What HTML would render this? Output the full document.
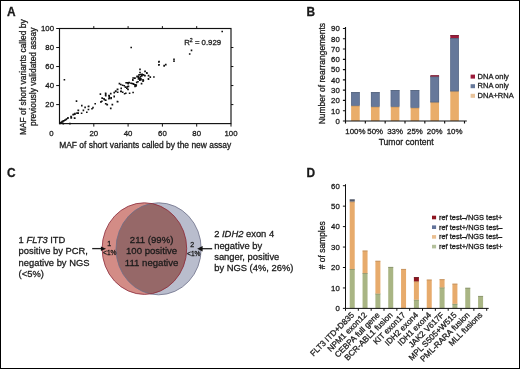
<!DOCTYPE html><html><head><meta charset="utf-8"><style>html,body{margin:0;padding:0;background:#fff;}svg{display:block;filter:blur(0.3px);} text{font-family:"Liberation Sans", sans-serif;fill:#1a1a1a;stroke:#1a1a1a;stroke-width:0.28px;}</style></head><body>
<svg width="520" height="369" viewBox="0 0 520 369">
<rect x="0" y="0" width="520" height="369" fill="#fff"/>
<text x="6.9" y="16.2" font-size="11.9" font-weight="bold" fill="#000">A</text>
<text x="306.6" y="16.2" font-size="11.9" font-weight="bold" fill="#000">B</text>
<text x="6.9" y="176.6" font-size="11.9" font-weight="bold" fill="#000">C</text>
<text x="306.6" y="176.5" font-size="11.9" font-weight="bold" fill="#000">D</text>
<rect x="59.5" y="28.5" width="171.5" height="95.1" fill="none" stroke="#111" stroke-width="1.15"/>
<path d="M93.80,123.6v3.0 M93.80,28.5v-2.4 M59.5,104.58h-3.3 M231.0,104.58h2.4 M128.10,123.6v3.0 M128.10,28.5v-2.4 M59.5,85.56h-3.3 M231.0,85.56h2.4 M162.40,123.6v3.0 M162.40,28.5v-2.4 M59.5,66.54h-3.3 M231.0,66.54h2.4 M196.70,123.6v3.0 M196.70,28.5v-2.4 M59.5,47.52h-3.3 M231.0,47.52h2.4 M231.00,123.6v3.0 M59.5,28.50h-3.3" stroke="#111" stroke-width="1" fill="none"/>
<text x="93.80" y="135.6" font-size="7.8" text-anchor="middle" fill="#333">20</text>
<text x="54.0" y="107.38" font-size="7.8" text-anchor="end" fill="#333">20</text>
<text x="128.10" y="135.6" font-size="7.8" text-anchor="middle" fill="#333">40</text>
<text x="54.0" y="88.36" font-size="7.8" text-anchor="end" fill="#333">40</text>
<text x="162.40" y="135.6" font-size="7.8" text-anchor="middle" fill="#333">60</text>
<text x="54.0" y="69.34" font-size="7.8" text-anchor="end" fill="#333">60</text>
<text x="196.70" y="135.6" font-size="7.8" text-anchor="middle" fill="#333">80</text>
<text x="54.0" y="50.32" font-size="7.8" text-anchor="end" fill="#333">80</text>
<text x="231.00" y="135.6" font-size="7.8" text-anchor="middle" fill="#333">100</text>
<text x="54.0" y="31.30" font-size="7.8" text-anchor="end" fill="#333">100</text>
<text x="51.3" y="135.6" font-size="7.8" text-anchor="middle" fill="#333">0</text>
<text x="145.2" y="148.2" font-size="8.45" text-anchor="middle">MAF of short variants called by the new assay</text>
<text transform="translate(26.0,77.2) rotate(-90)" font-size="8.45" text-anchor="middle">MAF of short variants called by</text>
<text transform="translate(36.2,76.8) rotate(-90)" font-size="8.45" text-anchor="middle">previously validated assay</text>
<text x="184.2" y="45.0" font-size="7.8" fill="#333">R<tspan font-size="5.2" dy="-3">2</tspan><tspan dy="3"> = 0.929</tspan></text>
<path d="M76.5,101.1h0 M81.8,105.6h0 M85.1,107.4h0 M88.4,106.5h0 M88.4,109.5h0 M83.4,110.4h0 M78.4,110.4h0 M86.8,112.3h0 M81.6,113.2h0 M77.0,113.2h0 M78.0,113.2h0 M74.9,114.1h0 M73.5,114.8h0 M71.0,116.6h0 M71.4,117.6h0 M74.8,118.2h0 M67.9,118.2h0 M66.5,119.0h0 M65.0,120.1h0 M63.6,120.8h0 M62.2,121.5h0 M60.8,122.6h0 M60.1,122.9h0 M117.4,89.3h0 M115.6,91.4h0 M114.2,92.6h0 M110.7,93.5h0 M105.6,93.2h0 M105.6,95.1h0 M100.4,94.2h0 M108.9,95.6h0 M109.3,97.0h0 M111.0,98.4h0 M108.9,98.8h0 M114.2,96.7h0 M102.1,98.0h0 M104.0,98.8h0 M105.4,100.1h0 M101.9,101.3h0 M100.8,102.0h0 M117.4,101.6h0 M95.2,103.7h0 M105.7,103.7h0 M107.1,104.8h0 M112.4,104.6h0 M110.7,108.3h0 M88.7,106.4h0 M93.0,107.6h0 M92.0,108.7h0 M88.5,109.5h0 M140.0,69.4h0 M140.0,72.5h0 M139.8,74.8h0 M141.6,74.5h0 M143.4,74.8h0 M137.0,76.6h0 M138.4,77.3h0 M139.8,78.0h0 M140.9,78.7h0 M133.1,78.0h0 M134.9,78.1h0 M132.8,79.7h0 M138.4,79.0h0 M139.8,80.1h0 M143.0,79.7h0 M143.0,81.2h0 M141.6,83.6h0 M136.7,82.3h0 M126.1,82.8h0 M127.5,82.9h0 M129.3,82.8h0 M131.0,83.3h0 M132.4,83.6h0 M133.8,84.2h0 M135.3,84.7h0 M136.3,85.0h0 M119.4,83.6h0 M120.8,84.5h0 M122.6,85.2h0 M124.3,85.7h0 M128.2,83.6h0 M128.2,86.4h0 M125.4,87.1h0 M126.8,88.2h0 M127.9,89.3h0 M121.2,88.5h0 M117.6,89.3h0 M115.9,91.0h0 M121.2,91.4h0 M158.8,62.0h0 M158.8,65.0h0 M164.1,65.9h0 M165.8,64.8h0 M145.0,71.2h0 M146.8,72.9h0 M142.2,74.3h0 M143.6,75.0h0 M145.0,75.7h0 M148.6,75.7h0 M150.3,77.0h0 M153.9,77.0h0 M148.4,78.9h0 M145.1,71.4h0 M147.0,73.3h0 M148.5,75.6h0 M150.3,77.2h0 M148.5,79.1h0 M138.8,75.0h0 M141.0,74.5h0 M143.2,75.0h0 M144.8,75.6h0 M137.2,76.4h0 M138.3,76.9h0 M141.8,75.9h0 M140.5,76.7h0 M138.8,78.0h0 M139.9,78.8h0 M141.0,79.6h0 M143.4,80.5h0 M133.4,78.0h0 M135.0,78.3h0 M132.9,80.2h0 M136.7,82.4h0 M138.0,81.8h0 M141.5,83.7h0 M129.1,82.6h0 M131.2,83.2h0 M133.4,83.7h0 M135.0,84.8h0 M136.1,85.9h0 M128.5,86.4h0 M131.2,47.5h0 M64.4,79.8h0 M222.2,31.5h0 M191.5,50.4h0 M189.7,54.0h0 M174.0,59.2h0 M174.0,61.1h0 M159.1,61.6h0 M159.1,64.8h0 M164.2,65.5h0 M165.8,64.6h0 M133.1,92.5h0 M129.6,93.3h0 M125.8,93.3h0 M124.6,93.7h0 M122.7,92.2h0 M120.8,91.4h0 M121.2,88.3h0 M117.7,89.5h0 M115.8,91.4h0 M114.2,92.5h0 M117.7,92.2h0 M110.8,93.7h0 M109.2,95.6h0 M109.2,98.3h0 M111.2,97.9h0 M114.2,96.4h0 M105.8,93.7h0 M105.8,95.6h0 M100.4,94.1h0 M102.3,98.3h0 M104.2,99.5h0 M105.8,100.2h0 M101.2,101.8h0 M117.7,101.8h0 M105.8,103.7h0 M107.3,104.6h0 M112.3,104.5h0 M110.8,108.5h0 M127.3,86.8h0 M128.1,89.5h0 M135.0,86.4h0 M78.2,110.2h0 M77.0,113.1h0 M78.2,113.1h0 M73.1,114.6h0 M74.0,114.3h0 M75.0,113.6h0 M71.1,116.5h0 M71.1,118.0h0 M74.5,118.0h0 M68.0,117.8h0 M66.2,119.5h0 M65.0,120.2h0 M63.8,120.9h0 M62.8,121.4h0 M61.9,122.1h0 M60.9,122.9h0 M59.9,123.4h0 M63.3,123.6h0 M69.9,123.6h0" stroke="#111" stroke-width="1.6" stroke-linecap="square" fill="none"/>
<rect x="351.12" y="105.58" width="8.6" height="15.42" fill="#e9ad6a"/>
<path d="M351.12,105.93h8.6" stroke="#b98a55" stroke-width="0.7"/>
<rect x="351.12" y="92.22" width="8.6" height="13.36" fill="#66789a"/>
<rect x="351.37" y="92.47" width="8.10" height="12.86" fill="none" stroke="#55647e" stroke-width="0.5"/>
<path d="M351.12,92.57h8.6" stroke="#55647e" stroke-width="0.7"/>
<rect x="370.95" y="106.61" width="8.6" height="14.39" fill="#e9ad6a"/>
<path d="M370.95,106.96h8.6" stroke="#b98a55" stroke-width="0.7"/>
<rect x="370.95" y="92.22" width="8.6" height="14.39" fill="#66789a"/>
<rect x="371.20" y="92.47" width="8.10" height="13.89" fill="none" stroke="#55647e" stroke-width="0.5"/>
<path d="M370.95,92.57h8.6" stroke="#55647e" stroke-width="0.7"/>
<rect x="390.78" y="106.61" width="8.6" height="14.39" fill="#e9ad6a"/>
<path d="M390.78,106.96h8.6" stroke="#b98a55" stroke-width="0.7"/>
<rect x="390.78" y="90.16" width="8.6" height="16.45" fill="#66789a"/>
<rect x="391.03" y="90.41" width="8.10" height="15.95" fill="none" stroke="#55647e" stroke-width="0.5"/>
<path d="M390.78,90.51h8.6" stroke="#55647e" stroke-width="0.7"/>
<rect x="410.62" y="107.64" width="8.6" height="13.36" fill="#e9ad6a"/>
<path d="M410.62,107.99h8.6" stroke="#b98a55" stroke-width="0.7"/>
<rect x="410.62" y="90.16" width="8.6" height="17.48" fill="#66789a"/>
<rect x="410.87" y="90.41" width="8.10" height="16.98" fill="none" stroke="#55647e" stroke-width="0.5"/>
<path d="M410.62,90.51h8.6" stroke="#55647e" stroke-width="0.7"/>
<rect x="430.45" y="102.19" width="8.6" height="18.81" fill="#e9ad6a"/>
<path d="M430.45,102.54h8.6" stroke="#b98a55" stroke-width="0.7"/>
<rect x="430.45" y="76.49" width="8.6" height="25.70" fill="#66789a"/>
<rect x="430.70" y="76.74" width="8.10" height="25.20" fill="none" stroke="#55647e" stroke-width="0.5"/>
<path d="M430.45,76.84h8.6" stroke="#55647e" stroke-width="0.7"/>
<rect x="430.45" y="75.36" width="8.6" height="1.13" fill="#9b1b3a"/>
<path d="M430.45,75.71h8.6" stroke="#6a1025" stroke-width="0.7"/>
<rect x="450.28" y="91.19" width="8.6" height="29.81" fill="#e9ad6a"/>
<path d="M450.28,91.54h8.6" stroke="#b98a55" stroke-width="0.7"/>
<rect x="450.28" y="38.04" width="8.6" height="53.15" fill="#66789a"/>
<rect x="450.53" y="38.29" width="8.10" height="52.65" fill="none" stroke="#55647e" stroke-width="0.5"/>
<path d="M450.28,38.39h8.6" stroke="#55647e" stroke-width="0.7"/>
<rect x="450.28" y="35.16" width="8.6" height="2.88" fill="#9b1b3a"/>
<path d="M450.28,35.51h8.6" stroke="#6a1025" stroke-width="0.7"/>
<path d="M345.5,26.98V121.0H466.8 M345.5,121.00h-2.6 M345.5,110.72h-2.6 M345.5,100.44h-2.6 M345.5,90.16h-2.6 M345.5,79.88h-2.6 M345.5,69.60h-2.6 M345.5,59.32h-2.6 M345.5,49.04h-2.6 M345.5,38.76h-2.6 M345.5,28.48h-2.6 M345.50,121.0v2.4 M365.33,121.0v2.4 M385.17,121.0v2.4 M405.00,121.0v2.4 M424.83,121.0v2.4 M444.67,121.0v2.4 M464.50,121.0v2.4" stroke="#111" stroke-width="1.15" fill="none"/>
<text x="339.8" y="123.80" font-size="7.8" text-anchor="end" fill="#333">0</text>
<text x="339.8" y="113.52" font-size="7.8" text-anchor="end" fill="#333">10</text>
<text x="339.8" y="103.24" font-size="7.8" text-anchor="end" fill="#333">20</text>
<text x="339.8" y="92.96" font-size="7.8" text-anchor="end" fill="#333">30</text>
<text x="339.8" y="82.68" font-size="7.8" text-anchor="end" fill="#333">40</text>
<text x="339.8" y="72.40" font-size="7.8" text-anchor="end" fill="#333">50</text>
<text x="339.8" y="62.12" font-size="7.8" text-anchor="end" fill="#333">60</text>
<text x="339.8" y="51.84" font-size="7.8" text-anchor="end" fill="#333">70</text>
<text x="339.8" y="41.56" font-size="7.8" text-anchor="end" fill="#333">80</text>
<text x="339.8" y="31.28" font-size="7.8" text-anchor="end" fill="#333">90</text>
<text x="355.42" y="133.6" font-size="7.9" text-anchor="middle" fill="#333">100%</text>
<text x="375.25" y="133.6" font-size="7.9" text-anchor="middle" fill="#333">50%</text>
<text x="395.08" y="133.6" font-size="7.9" text-anchor="middle" fill="#333">33%</text>
<text x="414.92" y="133.6" font-size="7.9" text-anchor="middle" fill="#333">25%</text>
<text x="434.75" y="133.6" font-size="7.9" text-anchor="middle" fill="#333">20%</text>
<text x="454.58" y="133.6" font-size="7.9" text-anchor="middle" fill="#333">10%</text>
<text x="406.2" y="145.4" font-size="8.6" text-anchor="middle">Tumor content</text>
<text transform="translate(325.0,73.6) rotate(-90)" font-size="8.45" text-anchor="middle">Number of rearrangements</text>
<rect x="470.6" y="74.60" width="4.4" height="4.0" fill="#9b1b3a"/>
<text x="477.6" y="78.60" font-size="7.5">DNA only</text>
<rect x="470.6" y="84.20" width="4.4" height="4.0" fill="#66789a"/>
<text x="477.6" y="88.20" font-size="7.5">RNA only</text>
<rect x="470.6" y="93.80" width="4.4" height="4.0" fill="#e8c39b"/>
<text x="477.6" y="97.80" font-size="7.5">DNA+RNA</text>
<defs><clipPath id="cr"><ellipse cx="144.4" cy="248.6" rx="42.3" ry="45.8"/></clipPath></defs>
<ellipse cx="158.6" cy="248.8" rx="42.6" ry="46" fill="#b9bdcd"/>
<ellipse cx="144.4" cy="248.6" rx="42.3" ry="45.8" fill="#d38c86"/>
<ellipse cx="158.6" cy="248.8" rx="42.6" ry="46" fill="#966868" clip-path="url(#cr)"/>
<ellipse cx="158.6" cy="248.8" rx="42.6" ry="46" fill="none" stroke="#6c6f88" stroke-width="0.8"/>
<ellipse cx="144.4" cy="248.6" rx="42.3" ry="45.8" fill="none" stroke="#8a2a3a" stroke-width="0.8"/>
<text x="151.6" y="242.6" font-size="9.6" text-anchor="middle" fill="#2a1a1a">211 (99%)</text>
<text x="151.6" y="254.1" font-size="9.6" text-anchor="middle" fill="#2a1a1a">100 positive</text>
<text x="151.6" y="265.6" font-size="9.6" text-anchor="middle" fill="#2a1a1a">111 negative</text>
<text x="109.2" y="246.2" font-size="7" text-anchor="middle" fill="#333">1</text>
<text x="109.8" y="255.2" font-size="6.6" text-anchor="middle" fill="#333">&lt;1%</text>
<text x="192.3" y="246.8" font-size="7" text-anchor="middle" fill="#333">2</text>
<text x="193.8" y="255.6" font-size="6.6" text-anchor="middle" fill="#333">&lt;1%</text>
<path d="M92.2,248.6H102" stroke="#222" stroke-width="1.3"/>
<path d="M106.0,248.7L100.9,246.5L100.9,250.9Z" fill="#111"/>
<path d="M212.2,248.7H201.5" stroke="#222" stroke-width="1.3"/>
<path d="M197.2,248.7L202.6,246L202.6,251.4Z" fill="#111"/>
<text x="18.6" y="242.6" font-size="9.4">1 <tspan font-style="italic">FLT3</tspan> ITD</text>
<text x="18.6" y="254.1" font-size="9.4">positive by PCR,</text>
<text x="18.6" y="265.6" font-size="9.4">negative by NGS</text>
<text x="18.6" y="277.1" font-size="9.4">(&lt;5%)</text>
<text x="214.2" y="237.3" font-size="9.4">2 <tspan font-style="italic">IDH2</tspan> exon 4</text>
<text x="214.2" y="248.6" font-size="9.4">negative by</text>
<text x="214.2" y="259.9" font-size="9.4">sanger, positive</text>
<text x="214.2" y="271.2" font-size="9.4">by NGS (4%, 26%)</text>
<rect x="349.72" y="269.04" width="5.0" height="39.36" fill="#a9b584"/>
<path d="M349.72,269.39h5.0" stroke="#7f8a66" stroke-width="0.7"/>
<rect x="349.72" y="201.56" width="5.0" height="67.48" fill="#e7ab6c"/>
<path d="M349.72,201.91h5.0" stroke="#b98a58" stroke-width="0.7"/>
<rect x="349.72" y="199.51" width="5.0" height="2.04" fill="#5a6274"/>
<path d="M349.72,199.86h5.0" stroke="#454b58" stroke-width="0.7"/>
<rect x="362.55" y="273.13" width="5.0" height="35.26" fill="#a9b584"/>
<path d="M362.55,273.49h5.0" stroke="#7f8a66" stroke-width="0.7"/>
<rect x="362.55" y="250.64" width="5.0" height="22.50" fill="#e7ab6c"/>
<path d="M362.55,250.99h5.0" stroke="#b98a58" stroke-width="0.7"/>
<rect x="375.39" y="293.58" width="5.0" height="14.81" fill="#a9b584"/>
<path d="M375.39,293.94h5.0" stroke="#7f8a66" stroke-width="0.7"/>
<rect x="375.39" y="260.87" width="5.0" height="32.72" fill="#e7ab6c"/>
<path d="M375.39,261.22h5.0" stroke="#b98a58" stroke-width="0.7"/>
<rect x="388.23" y="267.00" width="5.0" height="41.40" fill="#a9b584"/>
<path d="M388.23,267.35h5.0" stroke="#7f8a66" stroke-width="0.7"/>
<rect x="401.06" y="269.04" width="5.0" height="39.36" fill="#e7ab6c"/>
<path d="M401.06,269.39h5.0" stroke="#b98a58" stroke-width="0.7"/>
<rect x="413.90" y="299.72" width="5.0" height="8.68" fill="#a9b584"/>
<path d="M413.90,300.07h5.0" stroke="#7f8a66" stroke-width="0.7"/>
<rect x="413.90" y="281.31" width="5.0" height="18.40" fill="#e7ab6c"/>
<path d="M413.90,281.67h5.0" stroke="#b98a58" stroke-width="0.7"/>
<rect x="413.90" y="277.22" width="5.0" height="4.09" fill="#8e1520"/>
<path d="M413.90,277.57h5.0" stroke="#600e15" stroke-width="0.7"/>
<rect x="426.74" y="279.68" width="5.0" height="28.72" fill="#e7ab6c"/>
<path d="M426.74,280.03h5.0" stroke="#b98a58" stroke-width="0.7"/>
<rect x="439.57" y="287.45" width="5.0" height="20.95" fill="#a9b584"/>
<path d="M439.57,287.80h5.0" stroke="#7f8a66" stroke-width="0.7"/>
<rect x="439.57" y="279.27" width="5.0" height="8.18" fill="#e7ab6c"/>
<path d="M439.57,279.62h5.0" stroke="#b98a58" stroke-width="0.7"/>
<rect x="452.41" y="303.81" width="5.0" height="4.59" fill="#a9b584"/>
<path d="M452.41,304.16h5.0" stroke="#7f8a66" stroke-width="0.7"/>
<rect x="452.41" y="283.77" width="5.0" height="20.04" fill="#e7ab6c"/>
<path d="M452.41,284.12h5.0" stroke="#b98a58" stroke-width="0.7"/>
<rect x="465.25" y="287.86" width="5.0" height="20.54" fill="#a9b584"/>
<path d="M465.25,288.21h5.0" stroke="#7f8a66" stroke-width="0.7"/>
<rect x="478.08" y="296.04" width="5.0" height="12.36" fill="#a9b584"/>
<path d="M478.08,296.39h5.0" stroke="#7f8a66" stroke-width="0.7"/>
<path d="M345.5,184.20V308.4H488.7 M345.5,308.40h-2.6 M345.5,287.95h-2.6 M345.5,267.50h-2.6 M345.5,247.05h-2.6 M345.5,226.60h-2.6 M345.5,206.15h-2.6 M345.5,185.70h-2.6 M345.50,308.4v2.4 M358.34,308.4v2.4 M371.17,308.4v2.4 M384.01,308.4v2.4 M396.85,308.4v2.4 M409.68,308.4v2.4 M422.52,308.4v2.4 M435.35,308.4v2.4 M448.19,308.4v2.4 M461.03,308.4v2.4 M473.86,308.4v2.4 M486.70,308.4v2.4" stroke="#111" stroke-width="1" fill="none"/>
<text x="339.8" y="311.20" font-size="7.8" text-anchor="end" fill="#333">0</text>
<text x="339.8" y="290.75" font-size="7.8" text-anchor="end" fill="#333">10</text>
<text x="339.8" y="270.30" font-size="7.8" text-anchor="end" fill="#333">20</text>
<text x="339.8" y="249.85" font-size="7.8" text-anchor="end" fill="#333">30</text>
<text x="339.8" y="229.40" font-size="7.8" text-anchor="end" fill="#333">40</text>
<text x="339.8" y="208.95" font-size="7.8" text-anchor="end" fill="#333">50</text>
<text x="339.8" y="188.50" font-size="7.8" text-anchor="end" fill="#333">60</text>
<text transform="translate(325.3,245.3) rotate(-90)" font-size="8.45" text-anchor="middle"># of samples</text>
<text transform="translate(354.62,315.60) rotate(-45)" font-size="8.2" text-anchor="end">FLT3 ITD+D835</text>
<text transform="translate(367.45,315.60) rotate(-45)" font-size="8.2" text-anchor="end">NPM1 exon12</text>
<text transform="translate(380.29,315.60) rotate(-45)" font-size="8.2" text-anchor="end">CEBPA full gene</text>
<text transform="translate(393.13,315.60) rotate(-45)" font-size="8.2" text-anchor="end">BCR-ABL1 fusion</text>
<text transform="translate(405.96,315.60) rotate(-45)" font-size="8.2" text-anchor="end">KIT exon17</text>
<text transform="translate(418.80,315.60) rotate(-45)" font-size="8.2" text-anchor="end">IDH2 exon4</text>
<text transform="translate(431.64,315.60) rotate(-45)" font-size="8.2" text-anchor="end">IDH1 exon4</text>
<text transform="translate(444.47,315.60) rotate(-45)" font-size="8.2" text-anchor="end">JAK2 V617F</text>
<text transform="translate(457.31,315.60) rotate(-45)" font-size="8.2" text-anchor="end">MPL S505+W515</text>
<text transform="translate(470.15,315.60) rotate(-45)" font-size="8.2" text-anchor="end">PML-RARA fusion</text>
<text transform="translate(482.98,315.60) rotate(-45)" font-size="8.2" text-anchor="end">MLL fusions</text>
<rect x="432.0" y="215.70" width="4.1" height="3.6" fill="#8e1520"/>
<text x="439.0" y="219.90" font-size="7.45">ref test–/NGS test+</text>
<rect x="432.0" y="225.40" width="4.1" height="3.6" fill="#62739a"/>
<text x="439.0" y="229.60" font-size="7.45">ref test+/NGS test–</text>
<rect x="432.0" y="235.10" width="4.1" height="3.6" fill="#e9be90"/>
<text x="439.0" y="239.30" font-size="7.45">ref test–/NGS test–</text>
<rect x="432.0" y="244.80" width="4.1" height="3.6" fill="#b4c09c"/>
<text x="439.0" y="249.00" font-size="7.45">ref test+/NGS test+</text>
<rect x="0.5" y="0.5" width="519" height="368" fill="none" stroke="#000" stroke-width="1"/>
</svg></body></html>
